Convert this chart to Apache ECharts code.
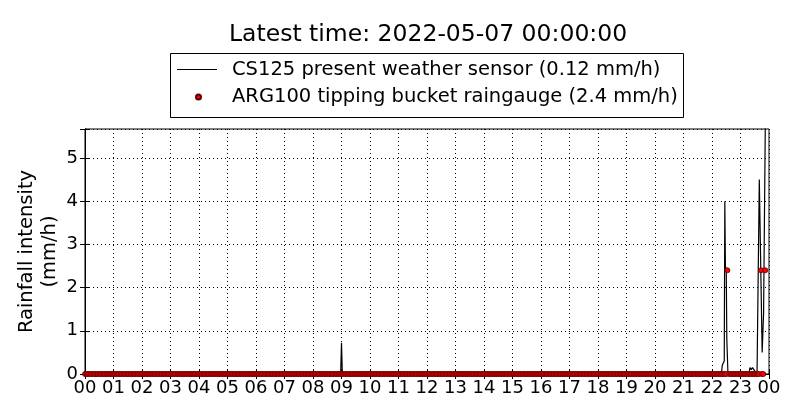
<!DOCTYPE html>
<html>
<head>
<meta charset="utf-8">
<script src="https://cdn.jsdelivr.net/npm/echarts@6/dist/echarts.min.js"></script>
<style>html,body{margin:0;padding:0;background:#fff}#c{width:800px;height:420px}</style>
</head>
<body>
<div id="c"></div>
<script>
// ---- data (hours since 2022-05-06 00:00) ----
var titleText = 'Latest time: 2022-05-07 00:00:00';
var cs125Name = 'CS125 present weather sensor (0.12 mm/h)';
var arg100Name = 'ARG100 tipping bucket raingauge (2.4 mm/h)';
var xTickHours = [0,1,2,3,4,5,6,7,8,9,10,11,12,13,14,15,16,17,18,19,20,21,22,23,24];
var xTickLabels = ['00','01','02','03','04','05','06','07','08','09','10','11','12','13','14','15','16','17','18','19','20','21','22','23','00'];
var yTickLabels = ['0','1','2','3','4','5'];

var cs125Hours  = [0, 8.97, 9.0, 9.03, 22.33, 22.36, 22.40, 22.43, 22.45, 22.47, 22.50, 22.52, 22.56, 23.30, 23.33, 23.38, 23.42, 23.47, 23.52, 23.58, 23.62, 23.66, 23.76, 23.81, 23.88, 24.0];
var cs125Values = [0, 0,    0.72, 0,   0,     0.2,   0.2,   0.3,   4.0,   2.5,   2.4,   0.8,   0,     0,     0.15,  0.1,   0.15,  0.1,   0.05,  0,     0,     4.5,   0.5,   1.4,   6.5,   6.5];

var gaugeTipHours  = [22.54, 23.72, 23.87];
var gaugeTipValues = [2.4, 2.4, 2.4];
var gaugeZeroValue = 0;          // all other bucket readings were zero
var gaugeStepMinutes = 3;
var gaugeLastZeroHour = 23.93;

var yMax = 5.67;

// ---- build series data ----
var cs125Data = cs125Hours.map(function (h, i) { return [h, cs125Values[i]]; });
var gaugeData = [];
for (var m = 0; m / 60 <= gaugeLastZeroHour; m += gaugeStepMinutes) {
  var h = m / 60;
  if (gaugeTipHours.some(function (t) { return Math.abs(t - h) < 0.03; })) continue;
  gaugeData.push([h, gaugeZeroValue]);
}
gaugeTipHours.forEach(function (h, i) { gaugeData.push([h, gaugeTipValues[i]]); });

var FONT = 'DejaVu Sans';
var dotted = { show: true, lineStyle: { color: '#000', type: [1, 3], width: 1 } };

var chart = echarts.init(document.getElementById('c'), null, { renderer: 'canvas' });
chart.setOption({
  animation: false,
  backgroundColor: '#fff',
  textStyle: { fontFamily: FONT, color: '#000' },
  title: {
    text: titleText, left: 229, top: 23, padding: 0,
    textStyle: { fontFamily: FONT, fontSize: 23.5, fontWeight: 'normal', color: '#000' }
  },
  graphic: [{
    type: 'rect', z: 0, silent: true,
    shape: { x: 170.5, y: 53.5, width: 513, height: 64 },
    style: { fill: '#fff', stroke: '#000', lineWidth: 1 }
  }],
  legend: [{
    data: [{ name: cs125Name, icon: 'rect', itemStyle: { color: '#000' } }], left: 177, top: 57.5, padding: 0,
    itemWidth: 40, itemHeight: 1, z: 5,
    textStyle: { fontFamily: FONT, fontSize: 19.5, color: '#000', padding: [0, 0, 0, 10], lineHeight: 24 }
  }, {
    data: [{ name: arg100Name, icon: 'circle' }], left: 195, top: 85, padding: 0,
    itemWidth: 5, itemHeight: 5, z: 5,
    textStyle: { fontFamily: FONT, fontSize: 19.5, color: '#000', padding: [0, 0, 0, 26], lineHeight: 24 }
  }],
  grid: { left: 85, right: 31, top: 129, bottom: 46, show: true, borderColor: '#000', borderWidth: 1, containLabel: false },
  xAxis: [{
    type: 'value', min: 0, max: 24, interval: 1,
    axisLine: { show: true, lineStyle: { color: '#000' } },
    axisTick: { show: true, inside: true, length: 5, lineStyle: { color: '#000' } },
    axisLabel: { fontFamily: FONT, fontSize: 18, color: '#000', margin: 5,
      formatter: function (v) { var i = xTickHours.indexOf(v); return i >= 0 ? xTickLabels[i] : ''; } },
    splitLine: dotted
  }, {
    type: 'value', position: 'top', min: 0, max: 24, interval: 1,
    axisLine: { show: true, lineStyle: { color: '#000' } },
    axisTick: { show: true, inside: true, length: 5, lineStyle: { color: '#000' } },
    axisLabel: { show: false }, splitLine: { show: false }
  }],
  yAxis: [{
    type: 'value', min: 0, max: yMax, interval: 1,
    name: 'Rainfall intensity\n(mm/h)', nameLocation: 'middle', nameGap: 24, nameRotate: 90, nameMoveOverlap: false,
    nameTextStyle: { fontFamily: FONT, fontSize: 19.5, color: '#000', lineHeight: 23, align: 'center' },
    axisLine: { show: true, lineStyle: { color: '#000' } },
    axisTick: { show: true, inside: true, length: 5, lineStyle: { color: '#000' } },
    axisLabel: { fontFamily: FONT, fontSize: 18, color: '#000', margin: 7,
      formatter: function (v) { return (Math.abs(v - Math.round(v)) < 1e-6 && yTickLabels[Math.round(v)] !== undefined) ? yTickLabels[Math.round(v)] : ''; } },
    splitLine: dotted
  }, {
    type: 'value', position: 'right', min: 0, max: yMax, interval: 1,
    axisLine: { show: true, lineStyle: { color: '#000' } },
    axisTick: { show: true, inside: true, length: 5, lineStyle: { color: '#000' } },
    axisLabel: { show: false }, splitLine: { show: false }
  }],
  series: [{
    name: cs125Name, type: 'line', data: cs125Data, symbol: 'none', clip: true,
    lineStyle: { color: '#000', width: 1.2 }, itemStyle: { color: '#000' }, z: 3
  }, {
    name: arg100Name, type: 'scatter', data: gaugeData, symbol: 'circle', symbolSize: 5, clip: false,
    itemStyle: { color: '#ff0000', borderColor: '#5a0000', borderWidth: 0.8, opacity: 1 }, z: 4
  }]
});
</script>
</body>
</html>
